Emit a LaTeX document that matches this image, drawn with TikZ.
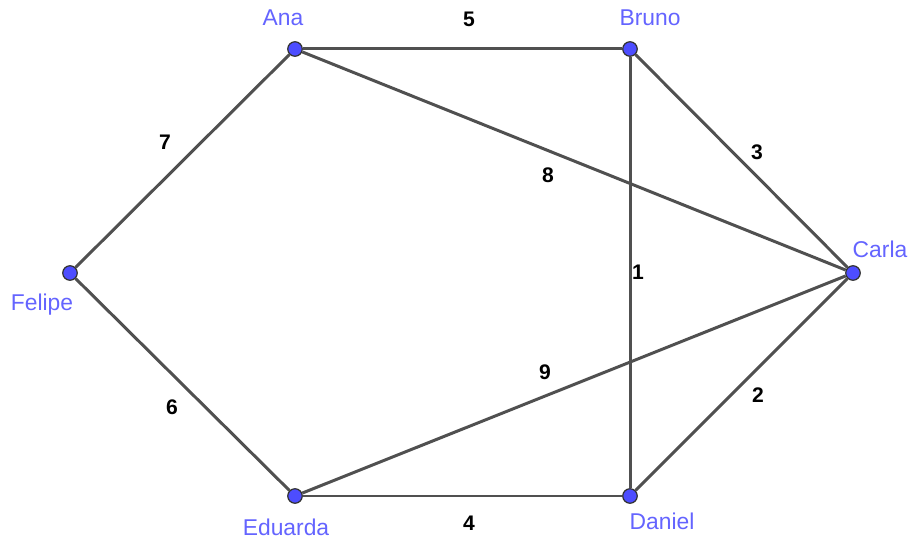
\documentclass[tikz,border=0pt]{standalone}
\usepackage{fontspec}
\setmainfont{Liberation Sans}
\usetikzlibrary{backgrounds}
\definecolor{vblue}{RGB}{77,77,255}
\definecolor{lblue}{RGB}{100,100,255}
\definecolor{egray}{RGB}{80,80,80}

\begin{document}
\begin{tikzpicture}[
    vertex/.style={circle, draw=black!80, fill=vblue, line width=0.7pt,
                   minimum size=0.29cm, inner sep=0pt,
                   label distance=0.1cm},
    personlbl/.style={text=lblue, font=\fontsize{13}{15}\selectfont},
    edge/.style={egray, line width=1.7pt},
    weight/.style={font=\fontsize{12}{14}\selectfont\bfseries, text=black}]
  \useasboundingbox (0,0) rectangle (18.3,10.8);

  % people
  \node[vertex, label={[personlbl, xshift=-0.24cm, yshift=0.18cm]above:Ana}] (ana) at (5.9,9.82) {};
  \node[vertex, label={[personlbl, xshift=0.4cm, yshift=0.18cm]above:Bruno}] (bruno) at (12.6,9.82) {};
  \node[vertex, label={[personlbl, xshift=0.54cm, yshift=0.02cm]above:Carla}] (carla) at (17.06,5.34) {};
  \node[vertex, label={[personlbl, xshift=0.64cm, yshift=-0.06cm]below:Daniel}] (daniel) at (12.6,0.88) {};
  \node[vertex, label={[personlbl, xshift=-0.18cm, yshift=-0.18cm]below:Eduarda}] (eduarda) at (5.9,0.88) {};
  \node[vertex, label={[personlbl, xshift=-0.56cm, yshift=-0.14cm]below:Felipe}] (felipe) at (1.4,5.34) {};

  % friendships
  \begin{scope}[on background layer]
    \draw[edge] (ana) -- node[weight, xshift=0.13cm, yshift=0.6cm] {5} (bruno);
    \draw[edge] (bruno) -- node[weight, xshift=0.31cm, yshift=0.18cm] {3} (carla);
    \draw[edge] (ana) -- node[weight, xshift=-0.52cm, yshift=-0.28cm] {8} (carla);
    \draw[edge] (felipe) -- node[weight, xshift=-0.35cm, yshift=0.38cm] {7} (ana);
    \draw[edge] (bruno) -- node[weight, xshift=0.16cm] {1} (daniel);
    \draw[edge] (eduarda) -- node[weight, xshift=-0.58cm, yshift=0.25cm] {9} (carla);
    \draw[edge] (felipe) -- node[weight, xshift=-0.21cm, yshift=-0.45cm] {6} (eduarda);
    \draw[edge] (carla) -- node[weight, xshift=0.33cm, yshift=-0.21cm] {2} (daniel);
    \draw[edge] (eduarda) -- node[weight, xshift=0.13cm, yshift=-0.54cm] {4} (daniel);
  \end{scope}
\end{tikzpicture}
\end{document}
